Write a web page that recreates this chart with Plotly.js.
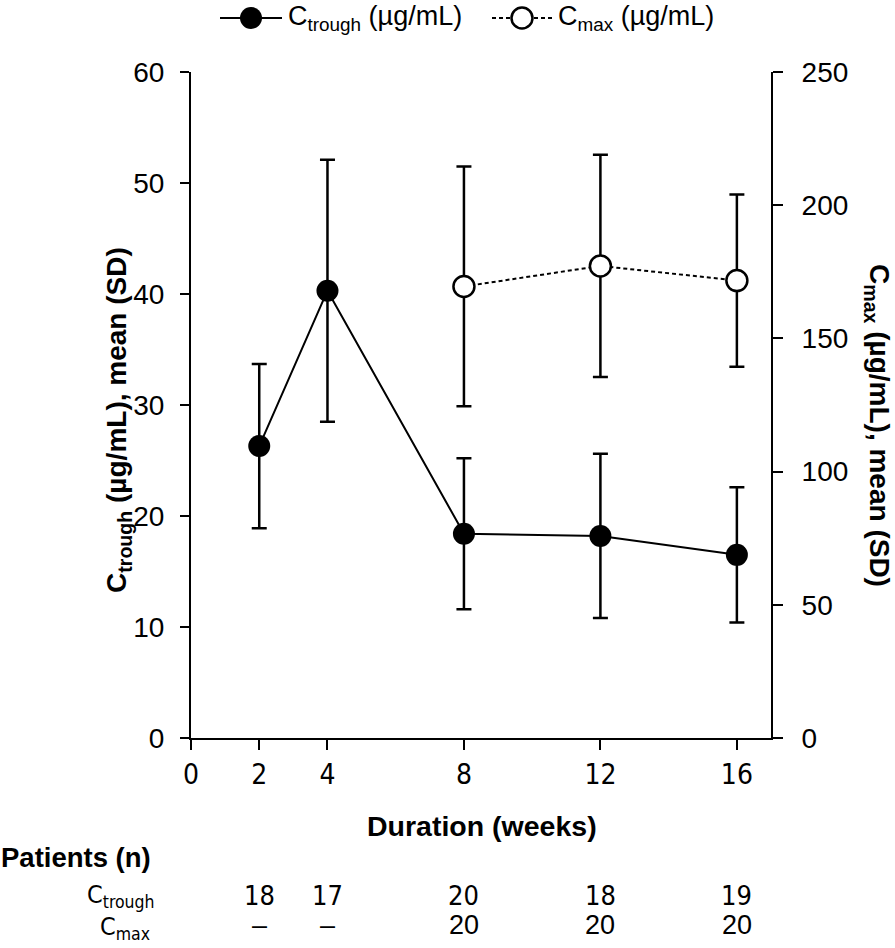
<!DOCTYPE html>
<html>
<head>
<meta charset="utf-8">
<script src="https://cdn.plot.ly/plotly-3.0.1.min.js"></script>
<style>html,body{margin:0;padding:0;background:#fff;}</style>
</head>
<body>
<div id="chart" style="width:895px;height:948px;"></div>
<script>
// ---- data ----
const weeks = [2, 4, 8, 12, 16];
const ctroughMean = [26.3, 40.3, 18.4, 18.2, 16.5];
const ctroughSD = [7.4, 11.8, 6.8, 7.4, 6.1];
const cmaxWeeks = [8, 12, 16];
const cmaxMean = [169.5, 177.2, 171.7];
const cmaxSD = [45.0, 41.7, 32.3];
const xTickVals = [0, 2, 4, 8, 12, 16];
const yTickVals = [0, 10, 20, 30, 40, 50, 60];
const y2TickVals = [0, 50, 100, 150, 200, 250];
const nTrough = ['18', '17', '20', '18', '19'];
const nCmax = ['–', '–', '20', '20', '20'];

// ---- layout helpers (pixel -> paper) ----
const L = 191, R = 771, T = 72, B = 738;
const px = x => (x - L) / (R - L);
const py = y => (B - y) / (B - T);

const FONT = "'Liberation Sans', Arial, sans-serif";
const NARROW = "'Liberation Sans Narrow', 'DejaVu Sans Condensed', 'Liberation Sans', sans-serif";

const traces = [
  {
    x: weeks, y: ctroughMean, type: 'scatter', mode: 'lines+markers',
    line: {color: '#000', width: 2},
    marker: {color: '#000', size: 22, line: {color: '#000', width: 0}},
    error_y: {type: 'data', array: ctroughSD, visible: true, color: '#000', thickness: 2.5, width: 7.5},
    cliponaxis: false, hoverinfo: 'skip'
  },
  {
    x: cmaxWeeks, y: cmaxMean, type: 'scatter', mode: 'lines+markers', yaxis: 'y2',
    line: {color: '#000', width: 2, dash: '4px,3px'},
    marker: {color: '#fff', size: 21, line: {color: '#000', width: 2.5}},
    error_y: {type: 'data', array: cmaxSD, visible: true, color: '#000', thickness: 2.5, width: 7.5},
    cliponaxis: false, hoverinfo: 'skip'
  }
];

const annotations = [];
const shapes = [];

// custom legend
const legY = py(18);
shapes.push({type: 'line', xref: 'paper', yref: 'paper', x0: px(220), x1: px(282), y0: legY, y1: legY, line: {color: '#000', width: 2}});
shapes.push({type: 'circle', xref: 'paper', yref: 'paper', xsizemode: 'pixel', ysizemode: 'pixel',
  xanchor: px(251), yanchor: legY, x0: -11, x1: 11, y0: -11, y1: 11, fillcolor: '#000', line: {color: '#000', width: 0}});
annotations.push({xref: 'paper', yref: 'paper', x: px(286), y: legY, xanchor: 'left', yanchor: 'middle', showarrow: false,
  text: 'C<sub>trough</sub> (µg/mL)', font: {family: FONT, size: 27, color: '#000'}});
shapes.push({type: 'line', xref: 'paper', yref: 'paper', x0: px(492), x1: px(553), y0: legY, y1: legY, line: {color: '#000', width: 2, dash: '4px,3px'}});
shapes.push({type: 'circle', xref: 'paper', yref: 'paper', xsizemode: 'pixel', ysizemode: 'pixel',
  xanchor: px(522), yanchor: legY, x0: -10.5, x1: 10.5, y0: -10.5, y1: 10.5, fillcolor: '#fff', line: {color: '#000', width: 2.5}});
annotations.push({xref: 'paper', yref: 'paper', x: px(556), y: legY, xanchor: 'left', yanchor: 'middle', showarrow: false,
  text: 'C<sub>max</sub> (µg/mL)', font: {family: FONT, size: 27, color: '#000'}});

// axis titles
annotations.push({xref: 'paper', yref: 'paper', x: px(118), y: py(420), textangle: -90, showarrow: false,
  xanchor: 'center', yanchor: 'middle',
  text: '<b>C<sub>trough</sub> (µg/mL), mean (SD)</b>', font: {family: FONT, size: 28, color: '#000'}});
annotations.push({xref: 'paper', yref: 'paper', x: px(878), y: py(425), textangle: 90, showarrow: false,
  xanchor: 'center', yanchor: 'middle',
  text: '<b>C<sub>max</sub> (µg/mL), mean (SD)</b>', font: {family: FONT, size: 28, color: '#000'}});
annotations.push({xref: 'paper', yref: 'paper', x: px(482), y: py(826), showarrow: false,
  xanchor: 'center', yanchor: 'middle',
  text: '<b>Duration (weeks)</b>', font: {family: FONT, size: 28.5, color: '#000'}});

// patients table
annotations.push({xref: 'paper', yref: 'paper', x: px(-1), y: py(857), showarrow: false,
  xanchor: 'left', yanchor: 'middle',
  text: '<b>Patients (n)</b>', font: {family: FONT, size: 27.5, color: '#000'}});
annotations.push({xref: 'paper', yref: 'paper', x: px(121), y: py(896), showarrow: false,
  xanchor: 'center', yanchor: 'middle',
  text: 'C<sub>trough</sub>', font: {family: NARROW, size: 25, color: '#000'}});
annotations.push({xref: 'paper', yref: 'paper', x: px(125), y: py(928), showarrow: false,
  xanchor: 'center', yanchor: 'middle',
  text: 'C<sub>max</sub>', font: {family: NARROW, size: 25, color: '#000'}});
weeks.forEach((w, i) => {
  annotations.push({xref: 'x', yref: 'paper', x: w, y: py(895), showarrow: false, xanchor: 'center', yanchor: 'middle',
    text: nTrough[i], font: {family: NARROW, size: 27, color: '#000'}});
  annotations.push({xref: 'x', yref: 'paper', x: w, y: py(925), showarrow: false, xanchor: 'center', yanchor: 'middle',
    text: nCmax[i], font: {family: FONT, size: 27, color: '#000'}});
});

const layout = {
  width: 895, height: 948,
  margin: {l: L, r: 895 - R, t: T, b: 948 - B, pad: 0},
  paper_bgcolor: '#fff', plot_bgcolor: '#fff',
  showlegend: false,
  xaxis: {
    range: [0, 17], tickvals: xTickVals, ticktext: xTickVals.map(String),
    ticks: 'outside', ticklen: 10, tickwidth: 2, tickcolor: '#000',
    showline: true, linewidth: 2, linecolor: '#000', showgrid: false, zeroline: false,
    tickfont: {family: NARROW, size: 28, color: '#000'}, ticklabelstandoff: 0
  },
  yaxis: {
    range: [0, 60], tickvals: yTickVals,
    ticks: 'outside', ticklen: 9, tickwidth: 2, tickcolor: '#000',
    showline: true, linewidth: 2, linecolor: '#000', showgrid: false, zeroline: false,
    tickfont: {family: FONT, size: 28, color: '#000'}, ticklabelstandoff: 10
  },
  yaxis2: {
    range: [0, 250], tickvals: y2TickVals, overlaying: 'y', side: 'right',
    ticks: 'outside', ticklen: 10, tickwidth: 2, tickcolor: '#000',
    showline: true, linewidth: 2, linecolor: '#000', showgrid: false, zeroline: false,
    tickfont: {family: FONT, size: 28, color: '#000'}, ticklabelstandoff: 13
  },
  shapes: shapes,
  annotations: annotations
};

Plotly.newPlot('chart', traces, layout, {staticPlot: true, displayModeBar: false});
</script>
</body>
</html>
